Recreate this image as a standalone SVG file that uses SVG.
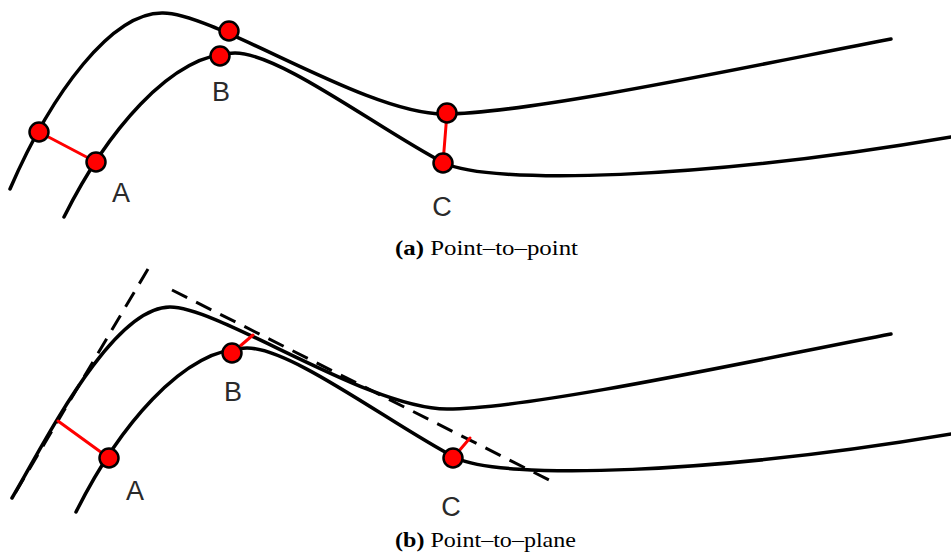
<svg xmlns="http://www.w3.org/2000/svg" width="951" height="556" viewBox="0 0 951 556">
<style>
.curve{fill:none;stroke:#000;stroke-width:3.5;stroke-linecap:round}
.dash{fill:none;stroke:#000;stroke-width:3;stroke-dasharray:17 10}
.err{stroke:#f00;stroke-width:3;stroke-linecap:round}
.dot{fill:#f00;stroke:#000;stroke-width:2.5}
.lbl{font-family:"Liberation Sans",Arial,sans-serif;font-size:27px;fill:#2a2a2a;text-anchor:middle}
.cap{font-family:"Liberation Serif","Times New Roman",serif;font-size:22px;fill:#000}
</style>
<rect width="951" height="556" fill="#fff"/>
<g id="panel-a">
  <g id="connectors-a">
    <path id="upper-a" class="curve" d="M10,189 C52,92 112,12 163,13 C215,13 365,114 444,114 C530,114 770,62 891,39"/>
    <path id="lower-a" class="curve" d="M64,217 C105,135 170,53 235,53 C280,53 380,130 444,163 C490,185 700,180 951,137"/>
    <line class="err" x1="39" y1="132" x2="96" y2="162"/>
    <line class="err" x1="447" y1="113" x2="443" y2="163"/>
  </g>
  <g id="node-a-A"><circle class="dot" cx="39" cy="132" r="9.5"/><circle class="dot" cx="96" cy="162" r="9.5"/><text class="lbl" x="121" y="202">A</text></g>
  <g id="node-a-B"><circle class="dot" cx="229" cy="31" r="9.5"/><circle class="dot" cx="220" cy="56" r="9.5"/><text class="lbl" x="221" y="101">B</text></g>
  <g id="node-a-C"><circle class="dot" cx="447" cy="113" r="9.5"/><circle class="dot" cx="443" cy="163" r="9.5"/><text class="lbl" x="442" y="216">C</text></g>
  <text class="cap" x="395" y="255" textLength="183" lengthAdjust="spacingAndGlyphs"><tspan font-weight="bold">(a)</tspan> Point–to–point</text>
</g>
<g id="panel-b">
  <g id="connectors-b">
    <path id="upper-b" class="curve" d="M12,498 C45,442 112,307 170,307 C220,307 368,409 447,409 C533,409 770,357 891,334"/>
    <path id="lower-b" class="curve" transform="translate(12,295)" d="M64,217 C105,135 170,53 235,53 C280,53 380,130 444,163 C490,185 700,180 951,137"/>
    <line class="dash" x1="148" y1="269" x2="11" y2="500"/>
    <line class="dash" x1="172" y1="290" x2="551" y2="481"/>
    <line class="err" x1="58" y1="421" x2="109" y2="458"/>
    <line class="err" x1="232" y1="353" x2="253" y2="335"/>
    <line class="err" x1="453" y1="458" x2="470" y2="438"/>
  </g>
  <g id="node-b-A"><circle class="dot" cx="109" cy="458" r="9.5"/><text class="lbl" x="135" y="500">A</text></g>
  <g id="node-b-B"><circle class="dot" cx="232" cy="353" r="9.5"/><text class="lbl" x="233" y="401">B</text></g>
  <g id="node-b-C"><circle class="dot" cx="453" cy="458" r="9.5"/><text class="lbl" x="451" y="516">C</text></g>
  <text class="cap" x="395" y="547" textLength="181" lengthAdjust="spacingAndGlyphs"><tspan font-weight="bold">(b)</tspan> Point–to–plane</text>
</g>
</svg>
